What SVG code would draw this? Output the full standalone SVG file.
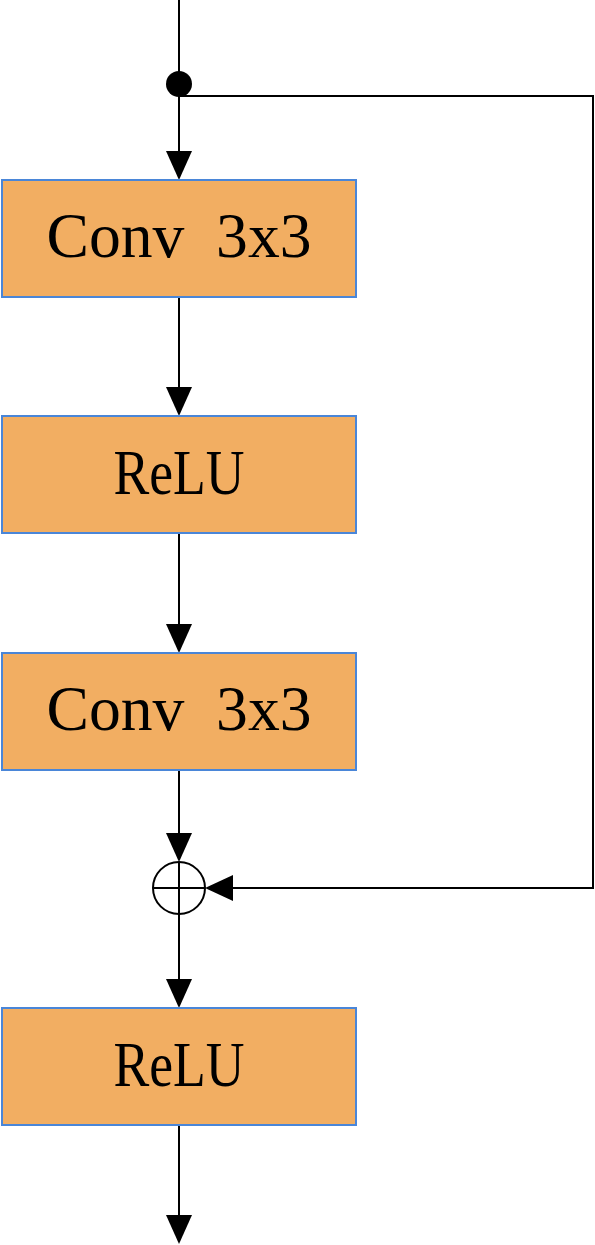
<svg xmlns="http://www.w3.org/2000/svg" width="595" height="1245" viewBox="0 0 595 1245">
<style>
.box{fill:#F2AE62;stroke:#4A86D8;stroke-width:2}
.lbl{font-family:"Liberation Serif",serif;font-size:64px;fill:#000;text-anchor:middle}
.ln{stroke:#000;stroke-width:2;fill:none}
.ah{fill:#000}
</style>
<rect width="595" height="1245" fill="#fff"/>
<g id="connectors">
<line class="ln" x1="179" y1="0" x2="179" y2="152"/>
<circle cx="179" cy="84" r="13" fill="#000"/>
<polyline class="ln" points="179,96 593,96 593,888 232,888"/>
<polygon class="ah" points="166,151 192,151 179,180"/>
<line class="ln" x1="179" y1="297" x2="179" y2="388"/>
<polygon class="ah" points="166,387 192,387 179,416"/>
<line class="ln" x1="179" y1="533" x2="179" y2="625"/>
<polygon class="ah" points="166,624 192,624 179,653"/>
<line class="ln" x1="179" y1="770" x2="179" y2="834"/>
<polygon class="ah" points="166,833 192,833 179,862"/>
<polygon class="ah" points="233,875 233,901 205,888"/>
<line class="ln" x1="179" y1="914" x2="179" y2="980"/>
<polygon class="ah" points="166,979 192,979 179,1008"/>
<line class="ln" x1="179" y1="1125" x2="179" y2="1216"/>
<polygon class="ah" points="166,1215 192,1215 179,1244"/>
</g>
<g id="add">
<circle class="ln" cx="179" cy="888" r="26"/>
<line class="ln" x1="153" y1="888" x2="205" y2="888"/>
<line class="ln" x1="179" y1="862" x2="179" y2="914"/>
</g>
<g id="conv1"><rect class="box" x="2" y="180" width="354" height="117"/><text class="lbl" x="179" y="257" xml:space="preserve" textLength="265" lengthAdjust="spacingAndGlyphs">Conv  3x3</text></g>
<g id="relu1"><rect class="box" x="2" y="416" width="354" height="117"/><text class="lbl" x="179" y="494" textLength="131" lengthAdjust="spacingAndGlyphs">ReLU</text></g>
<g id="conv2"><rect class="box" x="2" y="653" width="354" height="117"/><text class="lbl" x="179" y="730" xml:space="preserve" textLength="265" lengthAdjust="spacingAndGlyphs">Conv  3x3</text></g>
<g id="relu2"><rect class="box" x="2" y="1008" width="354" height="117"/><text class="lbl" x="179" y="1086" textLength="131" lengthAdjust="spacingAndGlyphs">ReLU</text></g>
</svg>
